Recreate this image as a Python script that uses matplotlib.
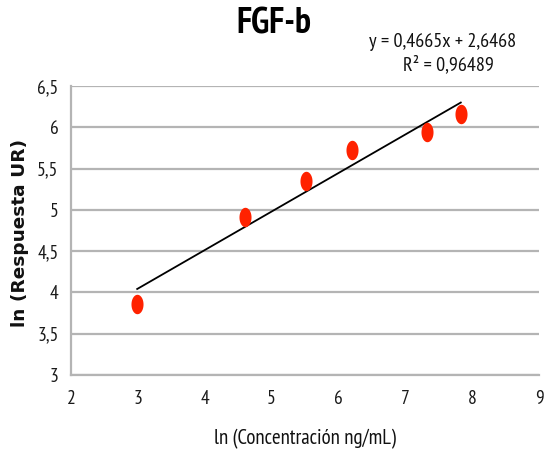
import matplotlib
matplotlib.use("Agg")
import matplotlib.pyplot as plt
import numpy as np
from matplotlib.path import Path
from matplotlib import font_manager as fm

x_vals = [2.99, 4.61, 5.52, 6.21, 7.32, 7.83]
y_vals = [3.86, 4.91, 5.35, 5.72, 5.94, 6.16]
slope = 0.4665
intercept = 2.6468
title = "FGF-b"
eq_text = "y = 0,4665x + 2,6468"
r2_text = "R² = 0,96489"
xlabel = "ln (Concentración ng/mL)"
ylabel = "ln (Respuesta UR)"
xticks = [2, 3, 4, 5, 6, 7, 8, 9]
yticks = [3, 3.5, 4, 4.5, 5, 5.5, 6, 6.5]

names = {f.name for f in fm.fontManager.ttflist}
narrow = next((n for n in ["PT Sans Narrow", "Roboto Condensed", "Fira Sans Condensed",
                           "Archivo Narrow"] if n in names), "DejaVu Sans")
NF = [narrow, "DejaVu Sans"]

fig = plt.figure(figsize=(5.49, 4.70), dpi=100)
ax = fig.add_axes([71/549, 1-375/470, (539-71)/549, (375-86)/470])

# elliptical marker (taller than wide)
t = np.linspace(0, 2*np.pi, 60)
ell = Path(np.column_stack([0.62*np.cos(t), np.sin(t)]))

ax.set_xlim(2, 9)
ax.set_ylim(3, 6.5)
ax.set_xticks(xticks)
ax.set_yticks(yticks)
ax.set_xticklabels([str(v) for v in xticks])
ax.set_yticklabels([str(v).replace(".", ",") for v in yticks])
ax.grid(axis="y", color="#b4b4b4", linewidth=1.6)
ax.set_axisbelow(True)
for s in ["top", "right"]:
    ax.spines[s].set_visible(False)
for s in ["left", "bottom"]:
    ax.spines[s].set_color("#b4b4b4")
    ax.spines[s].set_linewidth(1.6)
ax.tick_params(length=0)
for lab in ax.get_xticklabels() + ax.get_yticklabels():
    lab.set_fontfamily(NF)
    lab.set_fontsize(14)
    lab.set_color("#1a1a1a")
ax.tick_params(axis="x", pad=11)
ax.tick_params(axis="y", pad=9)

xl = np.array([min(x_vals), max(x_vals)])
ax.plot(xl, slope*xl + intercept, color="black", linewidth=1.3, zorder=3)
ax.plot(x_vals, y_vals, linestyle="none", marker=ell, markersize=14,
        color="#ff2200", markeredgewidth=0, zorder=4)

fig.text(274/549, 1-24/470, title, fontfamily=NF, fontweight="bold",
         fontsize=26, ha="center", va="center")
fig.text(443/549, 1-42/470, eq_text, fontfamily=NF, fontsize=14.5,
         ha="center", va="center", color="#111111")
fig.text(448/549, 1-65/470, r2_text, fontfamily=NF, fontsize=14.5,
         ha="center", va="center", color="#111111")
fig.text(305/549, 1-439/470, xlabel, fontfamily=NF, fontsize=15,
         ha="center", va="center", color="#111111")
fig.text(20/549, 1-233/470, ylabel, fontfamily="DejaVu Sans", fontweight="bold",
         fontsize=13.3, ha="center", va="center", rotation=90, color="#111111")

fig.savefig("out.png", dpi=100)
